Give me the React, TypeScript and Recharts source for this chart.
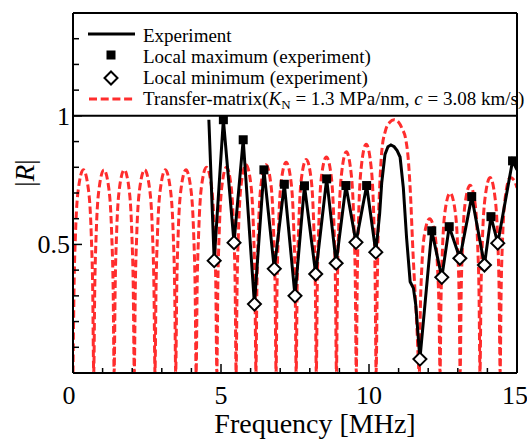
import { ComposedChart, Line, Scatter, XAxis, YAxis, ReferenceLine } from "recharts";

const SERIF = "Liberation Serif, Tinos, Times New Roman, serif";
const RED = "#ff2d2d";

const xTicks = [0, 1, 2, 3, 4, 5, 6, 7, 8, 9, 10, 11, 12, 13, 14, 15];
const xLabels = [0, 5, 10, 15];
const yTicks = [0, 0.1, 0.2, 0.3, 0.4, 0.5, 0.6, 0.7, 0.8, 0.9, 1, 1.1, 1.2, 1.3, 1.4];
const yLabels = [0.5, 1];

// transfer-matrix |R| (frequency MHz, |R|)
const transferCurve: [number, number][] = [
  [0, 0], [0.035, 0.33], [0.084, 0.54], [0.175, 0.71], [0.35, 0.79], [0.525, 0.71], [0.616, 0.54], [0.665, 0.33], [0.7, 0],
  [0.735, 0.33], [0.783, 0.54], [0.873, 0.71], [1.045, 0.79], [1.218, 0.71], [1.307, 0.54], [1.356, 0.33], [1.39, 0],
  [1.424, 0.33], [1.472, 0.54], [1.56, 0.71], [1.73, 0.79], [1.9, 0.71], [1.988, 0.54], [2.036, 0.33], [2.07, 0],
  [2.105, 0.33], [2.154, 0.54], [2.245, 0.71], [2.42, 0.79], [2.595, 0.71], [2.686, 0.54], [2.735, 0.33], [2.77, 0],
  [2.805, 0.33], [2.854, 0.54], [2.945, 0.71], [3.12, 0.79], [3.295, 0.71], [3.386, 0.54], [3.435, 0.33], [3.47, 0],
  [3.505, 0.33], [3.553, 0.54], [3.643, 0.71], [3.815, 0.79], [3.988, 0.71], [4.077, 0.54], [4.126, 0.33], [4.16, 0],
  [4.195, 0.34], [4.244, 0.54], [4.335, 0.72], [4.51, 0.8], [4.685, 0.72], [4.776, 0.54], [4.825, 0.34], [4.86, 0],
  [4.893, 0.34], [4.938, 0.54], [5.023, 0.72], [5.185, 0.8], [5.348, 0.72], [5.432, 0.54], [5.478, 0.34], [5.51, 0],
  [5.544, 0.34], [5.59, 0.55], [5.678, 0.73], [5.845, 0.81], [6.013, 0.73], [6.1, 0.55], [6.147, 0.34], [6.18, 0],
  [6.214, 0.34], [6.262, 0.55], [6.35, 0.73], [6.52, 0.81], [6.69, 0.73], [6.778, 0.55], [6.826, 0.34], [6.86, 0],
  [6.894, 0.34], [6.942, 0.56], [7.03, 0.74], [7.2, 0.82], [7.37, 0.74], [7.458, 0.56], [7.506, 0.34], [7.54, 0],
  [7.574, 0.35], [7.622, 0.56], [7.71, 0.75], [7.88, 0.83], [8.05, 0.75], [8.138, 0.56], [8.186, 0.35], [8.22, 0],
  [8.254, 0.35], [8.302, 0.57], [8.39, 0.76], [8.56, 0.84], [8.73, 0.76], [8.818, 0.57], [8.866, 0.35], [8.9, 0],
  [8.934, 0.36], [8.98, 0.58], [9.068, 0.77], [9.235, 0.86], [9.403, 0.77], [9.49, 0.58], [9.537, 0.36], [9.57, 0],
  [9.604, 0.37], [9.65, 0.61], [9.738, 0.8], [9.905, 0.89], [10.073, 0.8], [10.16, 0.61], [10.207, 0.37], [10.24, 0],
  [10.28, 0.35], [10.31, 0.55], [10.36, 0.72], [10.43, 0.86], [10.55, 0.94], [10.7, 0.975], [10.85, 0.985],
  [11.0, 0.975], [11.12, 0.95], [11.24, 0.91], [11.32, 0.84], [11.39, 0.72], [11.49, 0.46], [11.61, 0.2], [11.7, 0],
  [11.735, 0.25], [11.784, 0.41], [11.875, 0.54], [12.05, 0.6], [12.225, 0.54], [12.316, 0.41], [12.365, 0.25], [12.4, 0],
  [12.434, 0.29], [12.482, 0.48], [12.57, 0.63], [12.74, 0.7], [12.91, 0.63], [12.998, 0.48], [13.046, 0.29], [13.08, 0],
  [13.114, 0.31], [13.16, 0.5], [13.248, 0.66], [13.415, 0.73], [13.583, 0.66], [13.67, 0.5], [13.717, 0.31], [13.75, 0],
  [13.784, 0.32], [13.832, 0.52], [13.92, 0.68], [14.09, 0.76], [14.26, 0.68], [14.348, 0.52], [14.396, 0.32], [14.43, 0],
  [14.464, 0.32], [14.512, 0.52], [14.6, 0.68], [14.77, 0.76], [14.9, 0.75], [15.0, 0.72],
];

// measured |R|
const experimentCurve: [number, number][] = [
  [4.59, 0.985], [4.77, 0.437], [5.08, 0.985], [5.44, 0.507], [5.75, 0.907], [6.13, 0.268],
  [6.45, 0.79], [6.8, 0.405], [7.14, 0.734], [7.5, 0.3], [7.82, 0.728], [8.2, 0.385],
  [8.57, 0.755], [8.89, 0.427], [9.22, 0.729], [9.56, 0.508], [9.92, 0.729], [10.23, 0.47],
  [10.36, 0.62], [10.43, 0.74], [10.54, 0.85], [10.64, 0.88], [10.74, 0.887], [10.85, 0.88],
  [10.95, 0.865], [11.05, 0.84], [11.16, 0.72], [11.27, 0.525], [11.39, 0.355], [11.5, 0.33],
  [11.58, 0.265], [11.72, 0.054], [12.12, 0.553], [12.46, 0.372], [12.71, 0.569], [13.07, 0.446],
  [13.47, 0.686], [13.9, 0.42], [14.12, 0.608], [14.35, 0.505], [14.85, 0.825], [15.0, 0.79],
];

const localMaxima: [number, number][] = [
  [5.08, 0.985], [5.75, 0.907], [6.45, 0.79], [7.14, 0.734], [7.82, 0.728], [8.57, 0.755], [9.22, 0.729],
  [9.92, 0.729], [12.12, 0.553], [12.71, 0.569], [13.47, 0.686], [14.12, 0.608], [14.85, 0.825],
];

const localMinima: [number, number][] = [
  [4.77, 0.437], [5.44, 0.507], [6.13, 0.268], [6.8, 0.405], [7.5, 0.3], [8.2, 0.385], [8.89, 0.427],
  [9.56, 0.508], [10.23, 0.47], [11.72, 0.054], [12.46, 0.372], [13.07, 0.446], [13.9, 0.42], [14.35, 0.505],
];

const rows = (pts: [number, number][]) => pts.map(([f, R]) => ({ f, R }));

const BottomTick = ({ x, y, payload }: any) => {
  const major = xLabels.includes(payload.value);
  const nudge = payload.value === 0 ? -4 : payload.value === 15 ? -2 : 0;
  return (
    <g>
      <line x1={x} y1={y} x2={x} y2={y - (major ? 9 : 5)} stroke="#000" strokeWidth={1.5} />
      {major && (
        <text x={x + nudge} y={y + 31} textAnchor="middle" fontSize={26}
          style={{ fontFamily: SERIF }} fill="#000">
          {payload.value}
        </text>
      )}
    </g>
  );
};

const TopTick = ({ x, y, payload }: any) => {
  const major = xLabels.includes(payload.value);
  return <line x1={x} y1={y} x2={x} y2={y + (major ? 9 : 5)} stroke="#000" strokeWidth={1.5} />;
};

const LeftTick = ({ x, y, payload }: any) => {
  const major = yLabels.includes(payload.value);
  return (
    <g>
      <line x1={x} y1={y} x2={x + (major ? 9 : 6)} y2={y} stroke="#000" strokeWidth={1.5} />
      {major && (
        <text x={x - 3} y={y + 9} textAnchor="end" fontSize={26} style={{ fontFamily: SERIF }} fill="#000">
          {payload.value}
        </text>
      )}
    </g>
  );
};

const RightTick = ({ x, y, payload }: any) => {
  const major = yLabels.includes(payload.value);
  return <line x1={x} y1={y} x2={x - (major ? 9 : 6)} y2={y} stroke="#000" strokeWidth={1.5} />;
};

const Square = ({ cx, cy }: any) => <rect x={cx - 4.5} y={cy - 4.5} width={9} height={9} fill="#000" />;

const Diamond = ({ cx, cy }: any) => (
  <path d={`M${cx} ${cy - 6.5} L${cx + 6.5} ${cy} L${cx} ${cy + 6.5} L${cx - 6.5} ${cy} Z`}
    fill="#fff" stroke="#000" strokeWidth={2} />
);

const YLabel = ({ viewBox }: any) => {
  const cx = viewBox.x + 25;
  const cy = viewBox.y + viewBox.height / 2 - 20;
  return (
    <text x={cx} y={cy} transform={`rotate(-90 ${cx} ${cy})`} textAnchor="middle" dominantBaseline="central"
      fontSize={27} style={{ fontFamily: SERIF }} fill="#000">
      |<tspan fontStyle="italic">R</tspan>|
    </text>
  );
};

const XLabel = ({ viewBox }: any) => (
  <text x={viewBox.x + viewBox.width / 2 + 20} y={viewBox.y + 60} textAnchor="middle"
    fontSize={28} style={{ fontFamily: SERIF }} fill="#000">
    Frequency [MHz]
  </text>
);

export default function App() {
  return (
    <div style={{ position: "absolute", left: 0, top: 0, width: 527, height: 439, background: "#fff" }}>
      <ComposedChart width={527} height={439} margin={{ top: 12, right: 9, bottom: 0, left: 0 }}>
        <XAxis xAxisId="b" dataKey="f" type="number" domain={[0, 15]} ticks={xTicks} interval={0}
          allowDataOverflow height={66} tickSize={0} tickMargin={0} tick={<BottomTick />}
          axisLine={{ stroke: "#000", strokeWidth: 2 }} label={<XLabel />} />
        <XAxis xAxisId="t" orientation="top" type="number" domain={[0, 15]} ticks={xTicks} interval={0}
          height={1} tickSize={0} tickMargin={0} tick={<TopTick />}
          axisLine={{ stroke: "#000", strokeWidth: 2 }} />
        <YAxis yAxisId="l" dataKey="R" type="number" domain={[0, 1.4]} ticks={yTicks} interval={0}
          allowDataOverflow width={73} tickSize={0} tickMargin={0} tick={<LeftTick />}
          axisLine={{ stroke: "#000", strokeWidth: 2 }} label={<YLabel />} />
        <YAxis yAxisId="r" orientation="right" type="number" domain={[0, 1.4]} ticks={yTicks} interval={0}
          width={1} tickSize={0} tickMargin={0} tick={<RightTick />}
          axisLine={{ stroke: "#000", strokeWidth: 2 }} />
        <ReferenceLine xAxisId="b" yAxisId="l" y={1} stroke="#000" strokeWidth={2} />
        <Line xAxisId="b" yAxisId="l" data={rows(transferCurve)} dataKey="R" type="monotone" stroke={RED}
          strokeWidth={3} strokeDasharray="7.5 3.5" dot={false} activeDot={false} isAnimationActive={false} />
        <Line xAxisId="b" yAxisId="l" data={rows(experimentCurve)} dataKey="R" type="linear" stroke="#000"
          strokeWidth={3} dot={false} activeDot={false} isAnimationActive={false} />
        <Scatter xAxisId="b" yAxisId="l" data={rows(localMaxima)} dataKey="R" shape={<Square />}
          isAnimationActive={false} />
        <Scatter xAxisId="b" yAxisId="l" data={rows(localMinima)} dataKey="R" shape={<Diamond />}
          isAnimationActive={false} />
      </ComposedChart>
      <svg width={527} height={439} style={{ position: "absolute", left: 0, top: 0, pointerEvents: "none", fontFamily: SERIF }}
        fontSize={19}>
        <line x1={88} y1={34} x2={135} y2={34} stroke="#000" strokeWidth={3} />
        <text x={143} y={41.5}>Experiment</text>
        <rect x={106.5} y={50.5} width={9} height={9} fill="#000" />
        <text x={143} y={62.5}>Local maximum (experiment)</text>
        <path d="M111 71.5 L117.5 78 L111 84.5 L104.5 78 Z" fill="#fff" stroke="#000" strokeWidth={2} />
        <text x={143} y={83.5}>Local minimum (experiment)</text>
        <line x1={89} y1={99} x2={134} y2={99} stroke={RED} strokeWidth={3} strokeDasharray="8 3.7" />
        <text x={143} y={104.5}>
          Transfer-matrix(<tspan fontStyle="italic">K</tspan>
          <tspan fontSize={13} dy={4}>N</tspan>
          <tspan dy={-4}>{" = 1.3 MPa/nm, "}</tspan>
          <tspan fontStyle="italic">c</tspan>
          <tspan>{" = 3.08 km/s)"}</tspan>
        </text>
      </svg>
    </div>
  );
}
